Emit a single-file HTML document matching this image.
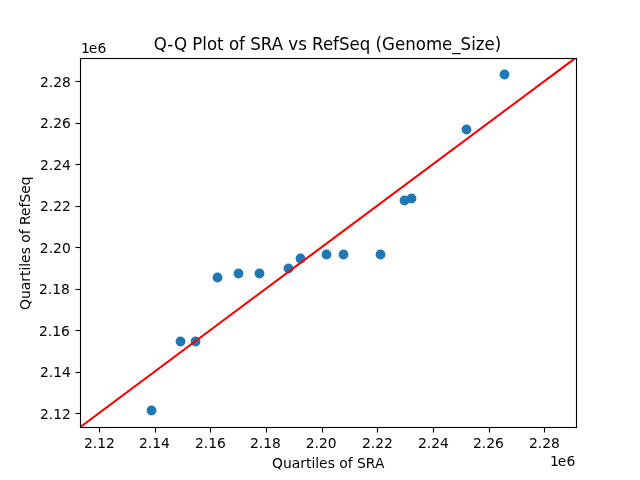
<!DOCTYPE html>
<html lang="en"><head><meta charset="utf-8"><title>Q-Q Plot of SRA vs RefSeq (Genome_Size)</title>
<style>html,body{margin:0;padding:0;background:#fff;}body{width:640px;height:480px;overflow:hidden;}svg{display:block;}text{font-family:"DejaVu Sans","Liberation Sans",sans-serif;fill:#000;}</style>
</head><body>
<svg width="640" height="480" viewBox="0 0 640 480">
<rect x="0" y="0" width="640" height="480" fill="#ffffff"/>
<defs><clipPath id="axclip"><rect x="80" y="58" width="496" height="369.2"/></clipPath></defs>
<g clip-path="url(#axclip)" fill="#1f77b4" stroke="none">
<circle cx="151.5" cy="410.5" r="4.911"/>
<circle cx="180.5" cy="341.5" r="4.911"/>
<circle cx="195.5" cy="341.5" r="4.911"/>
<circle cx="217.5" cy="277.5" r="4.911"/>
<circle cx="238.5" cy="273.5" r="4.911"/>
<circle cx="259.5" cy="273.5" r="4.911"/>
<circle cx="288.5" cy="268.5" r="4.911"/>
<circle cx="300.5" cy="258.5" r="4.911"/>
<circle cx="326.5" cy="254.5" r="4.911"/>
<circle cx="343.5" cy="254.5" r="4.911"/>
<circle cx="380.5" cy="254.5" r="4.911"/>
<circle cx="404.5" cy="200.5" r="4.911"/>
<circle cx="411.5" cy="198.5" r="4.911"/>
<circle cx="466.5" cy="129.5" r="4.911"/>
<circle cx="504.5" cy="74.5" r="4.911"/>
</g>
<g clip-path="url(#axclip)"><line x1="80" y1="427.2" x2="576" y2="57.6" stroke="#ff0000" stroke-width="2.12" stroke-linecap="square"/></g>
<g fill="#000000" stroke="none">
<rect x="98.9445" y="427.5000" width="1.111" height="5.0000"/>
<rect x="154.9445" y="427.5000" width="1.111" height="5.0000"/>
<rect x="209.9445" y="427.5000" width="1.111" height="5.0000"/>
<rect x="265.9445" y="427.5000" width="1.111" height="5.0000"/>
<rect x="321.9445" y="427.5000" width="1.111" height="5.0000"/>
<rect x="376.9445" y="427.5000" width="1.111" height="5.0000"/>
<rect x="432.9445" y="427.5000" width="1.111" height="5.0000"/>
<rect x="488.9445" y="427.5000" width="1.111" height="5.0000"/>
<rect x="543.9445" y="427.5000" width="1.111" height="5.0000"/>
<rect x="75.5000" y="80.9445" width="5.0000" height="1.111"/>
<rect x="75.5000" y="122.9445" width="5.0000" height="1.111"/>
<rect x="75.5000" y="163.9445" width="5.0000" height="1.111"/>
<rect x="75.5000" y="205.9445" width="5.0000" height="1.111"/>
<rect x="75.5000" y="246.9445" width="5.0000" height="1.111"/>
<rect x="75.5000" y="288.9445" width="5.0000" height="1.111"/>
<rect x="75.5000" y="329.9445" width="5.0000" height="1.111"/>
<rect x="75.5000" y="371.9445" width="5.0000" height="1.111"/>
<rect x="75.5000" y="412.9445" width="5.0000" height="1.111"/>
<rect x="79.9445" y="57.9450" width="1.111" height="370.1100"/>
<rect x="575.9445" y="57.9450" width="1.111" height="370.1100"/>
<rect x="79.9450" y="426.9445" width="497.1100" height="1.111"/>
<rect x="79.9450" y="57.9445" width="497.1100" height="1.111"/>
</g>
<g font-size="13.889px" text-anchor="middle">
<text x="99.43" y="448.0">2.12</text>
<text x="154.5" y="448.0">2.14</text>
<text x="210.5" y="448.0">2.16</text>
<text x="265.375" y="448.0">2.18</text>
<text x="321.125" y="448.0">2.20</text>
<text x="377.35" y="448.0">2.22</text>
<text x="433.45" y="448.0">2.24</text>
<text x="488.42" y="448.0">2.26</text>
<text x="544.5" y="448.0">2.28</text>
</g>
<g font-size="13.889px" text-anchor="end">
<text x="70.85" y="86.5">2.28</text>
<text x="70.85" y="127.5">2.26</text>
<text x="70.85" y="169.5">2.24</text>
<text x="70.85" y="210.5">2.22</text>
<text x="70.725" y="252.5">2.20</text>
<text x="69.95" y="293.5">2.18</text>
<text x="69.85" y="335.5">2.16</text>
<text x="70.85" y="376.5">2.14</text>
<text x="70.8" y="418.5">2.12</text>
</g>
<text x="80.900 88.636 97.431" y="53.0" font-size="13.889px">1e6</text>
<text x="549.900 557.636 566.431" y="466.0" font-size="13.889px">1e6</text>
<text x="328.25" y="467.7" font-size="13.889px" text-anchor="middle">Quartiles of SRA</text>
<text transform="translate(30.0,243.15) rotate(-90)" font-size="13.889px" text-anchor="middle">Quartiles of RefSeq</text>
<text transform="translate(327.5,49.8) scale(0.998,1.09)" font-size="16.667px" text-anchor="middle">Q-Q Plot of SRA vs RefSeq (Genome_Size)</text>
</svg>
</body></html>
